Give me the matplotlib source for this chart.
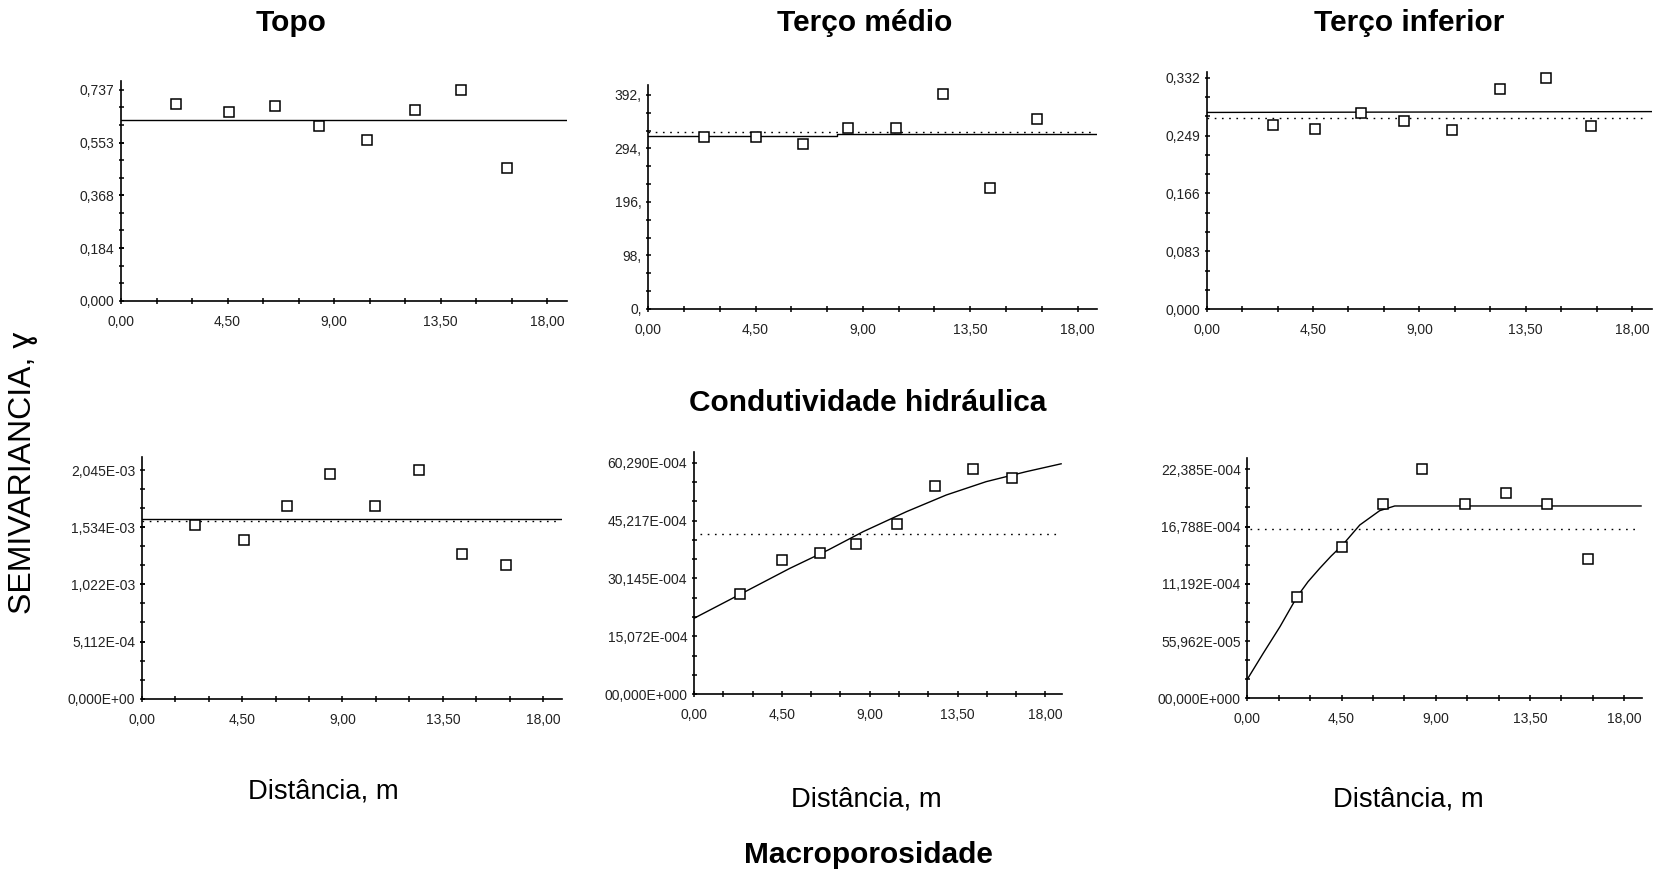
import matplotlib.pyplot as plt
from matplotlib.ticker import MultipleLocator

W, H = 1659, 874     # output size in pixels
plt.rcParams['font.family'] = ['Liberation Sans', 'DejaVu Sans']

# distance axis (same for every panel)
x_ticks = [0, 4.5, 9, 13.5, 18]
x_labels = ['0,00', '4,50', '9,00', '13,50', '18,00']

# --- Condutividade hidráulica (top row) ---
topo_h = [2.34, 4.57, 6.51, 8.34, 10.40, 12.40, 14.36, 16.31]
topo_g = [0.688, 0.658, 0.680, 0.610, 0.561, 0.667, 0.737, 0.464]
topo_model_h = [0, 18.83]
topo_model_g = [0.631, 0.631]
topo_var = None
topo_yticks = [0, 0.184, 0.368, 0.553, 0.737]
topo_ylabels = ['0,000', '0,184', '0,368', '0,553', '0,737']

medio_h = [2.35, 4.52, 6.50, 8.36, 10.39, 12.35, 14.34, 16.31]
medio_g = [314.4, 314.4, 301.6, 330.9, 330.9, 393.2, 221.6, 347.4]
medio_model_h = [0, 7.9, 7.9, 18.83]
medio_model_g = [317.5, 317.5, 320.5, 320.5]
medio_var = 323.5
medio_yticks = [0, 98, 196, 294, 392]
medio_ylabels = ['0,', '98,', '196,', '294,', '392,']

inf_h = [2.79, 4.58, 6.52, 8.34, 10.39, 12.39, 14.34, 16.28]
inf_g = [0.2642, 0.2580, 0.2819, 0.2699, 0.2566, 0.3153, 0.3321, 0.2623]
inf_model_h = [0, 18.83]
inf_model_g = [0.2822, 0.2834]
inf_var = 0.2742
inf_yticks = [0, 0.083, 0.166, 0.249, 0.332]
inf_ylabels = ['0,000', '0,083', '0,166', '0,249', '0,332']

# --- Macroporosidade (bottom row) ---
mtopo_h = [2.41, 4.60, 6.52, 8.45, 10.45, 12.42, 14.35, 16.32]
mtopo_g = [1.556e-3, 1.419e-3, 1.726e-3, 2.006e-3, 1.726e-3, 2.045e-3, 1.291e-3, 1.192e-3]
mtopo_model_h = [0, 18.83]
mtopo_model_g = [1.610e-3, 1.610e-3]
mtopo_var = 1.586e-3
mtopo_yticks = [0, 5.112e-4, 1.022e-3, 1.534e-3, 2.045e-3]
mtopo_ylabels = ['0,000E+00', '5,112E-04', '1,022E-03', '1,534E-03', '2,045E-03']

mmedio_h = [2.37, 4.52, 6.44, 8.32, 10.38, 12.36, 14.28, 16.28]
mmedio_g = [2.620e-3, 3.496e-3, 3.687e-3, 3.912e-3, 4.424e-3, 5.430e-3, 5.864e-3, 5.639e-3]
mmedio_model_h = [0, 0.82, 2.62, 4.91, 6.87, 8.66, 10.88, 12.92, 14.96, 17.01, 18.8]
mmedio_model_g = [1.978e-3, 2.195e-3, 2.671e-3, 3.279e-3, 3.756e-3, 4.233e-3,
                  4.754e-3, 5.188e-3, 5.535e-3, 5.795e-3, 6.000e-3]
mmedio_var = 4.173e-3
mmedio_yticks = [0, 15.072e-4, 30.145e-4, 45.217e-4, 60.290e-4]
mmedio_ylabels = ['00,000E+000', '15,072E-004', '30,145E-004', '45,217E-004', '60,290E-004']

minf_h = [2.38, 4.53, 6.48, 8.34, 10.37, 12.36, 14.30, 16.29]
minf_g = [0.994e-3, 1.476e-3, 1.896e-3, 2.238e-3, 1.896e-3, 2.004e-3, 1.896e-3, 1.359e-3]
minf_model_h = [0, 0.76, 1.56, 2.38, 2.9, 3.46, 4.0, 4.55, 5.37, 6.32, 7.04, 18.8]
minf_model_g = [0.186e-3, 0.440e-3, 0.700e-3, 0.994e-3, 1.140e-3, 1.271e-3, 1.390e-3,
                1.499e-3, 1.694e-3, 1.834e-3, 1.880e-3, 1.880e-3]
minf_var = 1.652e-3
minf_yticks = [0, 5.5962e-4, 11.192e-4, 16.788e-4, 22.385e-4]
minf_ylabels = ['00,000E+000', '55,962E-005', '11,192E-004', '16,788E-004', '22,385E-004']

panels = [
    (topo_h, topo_g, topo_model_h, topo_model_g, topo_var, topo_yticks, topo_ylabels),
    (medio_h, medio_g, medio_model_h, medio_model_g, medio_var, medio_yticks, medio_ylabels),
    (inf_h, inf_g, inf_model_h, inf_model_g, inf_var, inf_yticks, inf_ylabels),
    (mtopo_h, mtopo_g, mtopo_model_h, mtopo_model_g, mtopo_var, mtopo_yticks, mtopo_ylabels),
    (mmedio_h, mmedio_g, mmedio_model_h, mmedio_model_g, mmedio_var, mmedio_yticks, mmedio_ylabels),
    (minf_h, minf_g, minf_model_h, minf_model_g, minf_var, minf_yticks, minf_ylabels),
]

# axes boxes in pixels: left, top, right, bottom
boxes = [(121, 81, 567, 300.7), (648.3, 85, 1097.3, 309), (1206.7, 71.7, 1651.7, 309.3),
         (141.7, 456.7, 561.7, 698.7), (694, 451.7, 1061.7, 694.3), (1247.3, 458.3, 1641.7, 698.3)]
ytops = [0.768, 410, 0.3406, 2.164e-3, 6.315e-3, 2.346e-3]
var_start = [0, 0, 0, 0, 0.3, 0.13]

fig = plt.figure(figsize=(W / 100, H / 100), dpi=100)

for p, box, ytop, vs in zip(panels, boxes, ytops, var_start):
    h, g, mh, mg, var, yt, yl = p
    l, t, r, b = box
    ax = fig.add_axes([l / W, 1 - b / H, (r - l) / W, (b - t) / H])
    if var is not None:
        ax.plot([vs, 18.65], [var, var], color='black', lw=1.0, ls=(0, (1.2, 4)))
    ax.plot(mh, mg, color='black', lw=1.0)
    ax.plot(h, g, ls='none', marker='s', ms=7.5, mfc='white', mec='black', mew=1.1)
    ax.set_xlim(0, 18.83)
    ax.set_ylim(0, ytop)
    ax.set_xticks(x_ticks)
    ax.set_xticklabels(x_labels)
    ax.xaxis.set_minor_locator(MultipleLocator(1.5))
    ax.set_yticks(yt)
    ax.set_yticklabels(yl)
    ax.set_yticks([yt[-1] * k / 12 for k in range(13)], minor=True)
    ax.spines['top'].set_visible(False)
    ax.spines['right'].set_visible(False)
    ax.spines['left'].set_linewidth(1.2)
    ax.spines['bottom'].set_linewidth(1.2)
    ax.tick_params(axis='x', which='both', direction='inout', length=5, width=1.1,
                   pad=7.5, labelsize=10, labelcolor='#222222')
    ax.tick_params(axis='y', which='both', direction='inout', length=3.6, width=1.1,
                   pad=3, labelsize=10, labelcolor='#222222')


def ftext(x, y, s, **kw):
    fig.text(x / W, 1 - y / H, s, ha='center', va='center', **kw)


ftext(291, 23, 'Topo', fontsize=21.5, fontweight='bold')
ftext(865, 23, 'Terço médio', fontsize=21.5, fontweight='bold')
ftext(1409, 23, 'Terço inferior', fontsize=21.5, fontweight='bold')
ftext(868, 403, 'Condutividade hidráulica', fontsize=21.5, fontweight='bold')
ftext(323, 791, 'Distância, m', fontsize=19.7)
ftext(866, 799, 'Distância, m', fontsize=19.7)
ftext(1408, 799, 'Distância, m', fontsize=19.7)
ftext(868, 855, 'Macroporosidade', fontsize=21.5, fontweight='bold')
ftext(23, 473, 'SEMIVARIANCIA, ɣ', fontsize=23, rotation=90)

plt.savefig('out.png', dpi=100)
